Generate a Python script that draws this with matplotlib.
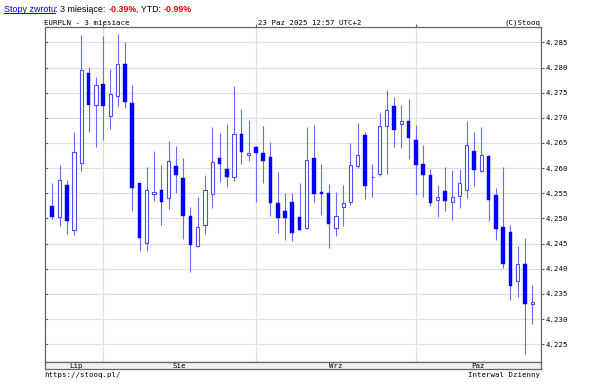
import matplotlib
matplotlib.use("Agg")
import matplotlib.pyplot as plt
from matplotlib.lines import Line2D
from matplotlib.transforms import blended_transform_factory
import numpy as np
import pandas as pd

# ---------------- data ----------------
symbol_title = "EURPLN - 3 miesiace"
stamp = "23 Paz 2025 12:57 UTC+2"
dates = pd.bdate_range("2025-07-23", "2025-10-23")
month_labels = {7: "Lip", 8: "Sie", 9: "Wrz", 10: "Paz"}

opens = [4.2524, 4.2503, 4.2567, 4.2478, 4.2610, 4.2790, 4.2726, 4.2767, 4.2703, 4.2743,
         4.2807, 4.2730, 4.2571, 4.2451, 4.2549, 4.2556, 4.2541, 4.2604, 4.2580, 4.2504,
         4.2445, 4.2487, 4.2549, 4.2620, 4.2598, 4.2583, 4.2667, 4.2627, 4.2643, 4.2631,
         4.2622, 4.2530, 4.2514, 4.2532, 4.2502, 4.2481, 4.2620, 4.2552, 4.2551, 4.2482,
         4.2522, 4.2532, 4.2605, 4.2665, 4.2582, 4.2589, 4.2683, 4.2723, 4.2687, 4.2693,
         4.2656, 4.2608, 4.2586, 4.2537, 4.2554, 4.2532, 4.2545, 4.2556, 4.2635, 4.2594,
         4.2625, 4.2547, 4.2484, 4.2473, 4.2375, 4.2409, 4.2330]
highs = [4.2570, 4.2606, 4.2576, 4.2672, 4.2864, 4.2801, 4.2782, 4.2862, 4.2798, 4.2867,
         4.2851, 4.2765, 4.2571, 4.2602, 4.2635, 4.2606, 4.2653, 4.2644, 4.2621, 4.2522,
         4.2542, 4.2586, 4.2682, 4.2669, 4.2687, 4.2763, 4.2717, 4.2696, 4.2645, 4.2684,
         4.2652, 4.2592, 4.2551, 4.2551, 4.2571, 4.2682, 4.2685, 4.2608, 4.2569, 4.2553,
         4.2566, 4.2650, 4.2689, 4.2672, 4.2608, 4.2709, 4.2756, 4.2741, 4.2725, 4.2737,
         4.2685, 4.2647, 4.2598, 4.2567, 4.2603, 4.2596, 4.2598, 4.2693, 4.2671, 4.2681,
         4.2626, 4.2561, 4.2603, 4.2488, 4.2446, 4.2461, 4.2367]
lows = [4.2498, 4.2486, 4.2469, 4.2467, 4.2594, 4.2671, 4.2642, 4.2655, 4.2677, 4.2724,
        4.2720, 4.2514, 4.2436, 4.2435, 4.2534, 4.2487, 4.2518, 4.2551, 4.2459, 4.2394,
        4.2444, 4.2470, 4.2520, 4.2573, 4.2562, 4.2575, 4.2608, 4.2614, 4.2533, 4.2571,
        4.2504, 4.2471, 4.2457, 4.2455, 4.2478, 4.2480, 4.2533, 4.2506, 4.2442, 4.2466,
        4.2486, 4.2526, 4.2600, 4.2539, 4.2543, 4.2584, 4.2589, 4.2643, 4.2640, 4.2618,
        4.2547, 4.2542, 4.2524, 4.2502, 4.2514, 4.2496, 4.2521, 4.2541, 4.2564, 4.2593,
        4.2494, 4.2457, 4.2402, 4.2339, 4.2343, 4.2230, 4.2290]
closes = [4.2503, 4.2577, 4.2495, 4.2633, 4.2795, 4.2726, 4.2766, 4.2724, 4.2747, 4.2806,
          4.2731, 4.2561, 4.2462, 4.2556, 4.2553, 4.2533, 4.2614, 4.2587, 4.2504, 4.2447,
          4.2483, 4.2557, 4.2612, 4.2608, 4.2583, 4.2667, 4.2633, 4.2631, 4.2630, 4.2615,
          4.2530, 4.2500, 4.2500, 4.2472, 4.2478, 4.2617, 4.2549, 4.2548, 4.2490, 4.2504,
          4.2531, 4.2606, 4.2626, 4.2565, 4.2583, 4.2684, 4.2715, 4.2676, 4.2693, 4.2660,
          4.2606, 4.2587, 4.2530, 4.2542, 4.2535, 4.2543, 4.2570, 4.2646, 4.2596, 4.2626,
          4.2537, 4.2479, 4.2410, 4.2365, 4.2409, 4.2330, 4.2335]
yticks = [4.225, 4.230, 4.235, 4.240, 4.245, 4.250, 4.255, 4.260, 4.265, 4.270, 4.275, 4.280, 4.285]

# ---------------- style ----------------
W, H = 605, 384
MONO = "DejaVu Sans Mono"
FS = 5.3
FRAME = "#666666"
GRID = "#e0e0e0"
WICK = "#6a6aff"
BODY = "#0000ff"
HOLLOW_EDGE = "#4d4dff"

fig = plt.figure(figsize=(W / 100, H / 100), dpi=100)
fig.patch.set_facecolor("white")

left_px, right_px = 44.5, 540.5
top_px, bot_px = 27.3, 361.7
ax = fig.add_axes([left_px / W, 1 - bot_px / H, (right_px - left_px) / W, (bot_px - top_px) / H])

n = len(opens)
x = np.arange(n)
o = np.array(opens); h = np.array(highs); l = np.array(lows); c = np.array(closes)
up = c >= o

ax.vlines(x, l, h, color=WICK, lw=0.8, zorder=2)
bottoms = np.minimum(o, c)
heights = np.maximum(np.abs(c - o), 0.00003)
ax.bar(x[~up], heights[~up], bottom=bottoms[~up], width=0.5, color=BODY,
       edgecolor=BODY, lw=0.3, zorder=3)
ax.bar(x[up], heights[up], bottom=bottoms[up], width=0.45, facecolor="white",
       edgecolor=HOLLOW_EDGE, lw=0.8, zorder=3)

xlim = (-1.07, n - 1 + 1.13)
ax.set_xlim(*xlim)
ax.set_ylim(4.22154, 4.28799)

# month boundaries from dates
months = np.array([d.month for d in dates])
bounds = [i for i in range(1, n) if months[i] != months[i - 1]]
ax.set_xticks(bounds)
ax.set_yticks(yticks)
ax.set_yticklabels([f"{v:.3f}" for v in yticks], family=MONO, fontsize=FS)
ax.yaxis.tick_right()
ax.tick_params(axis="y", right=True, left=False, direction="out", length=2.5,
               width=0.8, color=FRAME, pad=1.2, labelsize=FS)
ax.tick_params(axis="x", top=True, bottom=False, labelbottom=False, direction="out",
               length=2, width=0.8, color=FRAME)
ax.grid(True, color=GRID, lw=0.9, zorder=0)
ax.set_axisbelow(True)
for s in ax.spines.values():
    s.set_color(FRAME)
    s.set_linewidth(0.9)

# left inner ticks
tr = blended_transform_factory(ax.transAxes, ax.transData)
for v in yticks:
    ax.plot([0, 0.006], [v, v], color=FRAME, lw=0.8, transform=tr, clip_on=False, zorder=4)

# month band
band_top, band_bot = 361.7, 369.3
bax = fig.add_axes([left_px / W, 1 - band_bot / H, (right_px - left_px) / W, (band_bot - band_top) / H])
bax.set_facecolor("#f1f1f1")
bax.set_xlim(*xlim)
bax.set_ylim(0, 1)
bax.set_xticks([]); bax.set_yticks([])
for s in bax.spines.values():
    s.set_color(FRAME)
    s.set_linewidth(0.9)
edges = [-0.5] + bounds + [xlim[1]]
mlist = [months[0]] + [months[b] for b in bounds]
for i, m in enumerate(mlist):
    mid = (edges[i] + edges[i + 1]) / 2
    bax.text(mid, 0.45, month_labels[m], ha="center", va="center", family=MONO, fontsize=FS)

# header / footer texts
fig.text(left_px / W, 1 - 25 / H, symbol_title, family=MONO, fontsize=FS, va="baseline", ha="left")
fig.text(257.6 / W, 1 - 25 / H, stamp, family=MONO, fontsize=FS, va="baseline", ha="left")
fig.text(right_px / W, 1 - 25 / H, "(C)Stooq", family=MONO, fontsize=FS, va="baseline", ha="right")
fig.text(left_px / W, 1 - 377.5 / H, "https://stooq.pl/", family=MONO, fontsize=FS, va="baseline", ha="left")
fig.text(right_px / W, 1 - 377.5 / H, "Interwal Dzienny", family=MONO, fontsize=FS, va="baseline", ha="right")

# top returns line
fig.canvas.draw()
r = fig.canvas.get_renderer()
parts = [("Stopy zwrotu", "#0000ee", "normal"), (": 3 miesiące: ", "black", "normal"),
         ("-0.39%", "#ff0000", "bold"), (", YTD: ", "black", "normal"), ("-0.99%", "#ff0000", "bold")]
xp = 3.5
yb = 1 - 11.5 / H
for i, (txt, col, wt) in enumerate(parts):
    t = fig.text(xp / W, yb, txt, color=col, fontweight=wt, fontsize=6.4,
                 family="Liberation Sans", va="baseline", ha="left")
    bb = t.get_window_extent(renderer=r)
    if i == 0:
        fig.add_artist(Line2D([bb.x0 / W, bb.x1 / W], [yb - 1.5 / H, yb - 1.5 / H],
                              color=col, lw=0.7, transform=fig.transFigure))
    xp = bb.x1

fig.savefig("out.png", dpi=100)
